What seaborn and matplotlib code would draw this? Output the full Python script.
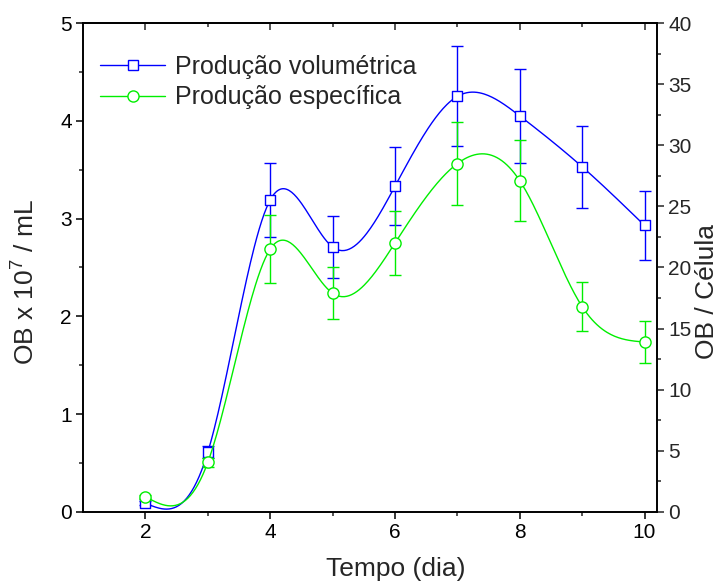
import matplotlib
matplotlib.use("Agg")
import matplotlib.pyplot as plt
from matplotlib.lines import Line2D
import seaborn as sns
import numpy as np


# data
dias = [2, 3, 4, 5, 6, 7, 8, 9, 10]
vol = [0.09, 0.61, 3.19, 2.71, 3.33, 4.25, 4.05, 3.53, 2.93]
vol_err = [0.02, 0.06, 0.38, 0.32, 0.40, 0.51, 0.48, 0.42, 0.35]
esp = [1.25, 4.05, 21.5, 17.9, 22.0, 28.5, 27.1, 16.8, 13.9]
esp_err = [0.15, 0.40, 2.8, 2.1, 2.6, 3.4, 3.3, 2.0, 1.7]


def spline(x, y, n=400):
    # natural cubic spline, only used to draw the smooth line
    x = np.asarray(x, float)
    y = np.asarray(y, float)
    k = len(x)
    h = np.diff(x)
    A = np.zeros((k, k))
    b = np.zeros(k)
    A[0, 0] = A[-1, -1] = 1
    for i in range(1, k - 1):
        A[i, i - 1] = h[i - 1]
        A[i, i] = 2 * (h[i - 1] + h[i])
        A[i, i + 1] = h[i]
        b[i] = 6 * ((y[i + 1] - y[i]) / h[i] - (y[i] - y[i - 1]) / h[i - 1])
    M = np.linalg.solve(A, b)
    xs = np.linspace(x[0], x[-1], n)
    idx = np.clip(np.searchsorted(x, xs) - 1, 0, k - 2)
    x0, x1 = x[idx], x[idx + 1]
    hh = x1 - x0
    ys = (M[idx] * (x1 - xs) ** 3 / (6 * hh) + M[idx + 1] * (xs - x0) ** 3 / (6 * hh)
          + (y[idx] / hh - M[idx] * hh / 6) * (x1 - xs)
          + (y[idx + 1] / hh - M[idx + 1] * hh / 6) * (xs - x0))
    return xs, ys


sns.set_style("ticks")
plt.rcParams['font.family'] = ['Liberation Sans', 'DejaVu Sans']
plt.rcParams['mathtext.fontset'] = 'custom'
plt.rcParams['mathtext.rm'] = 'Liberation Sans'
plt.rcParams['mathtext.it'] = 'Liberation Sans'

blue = "#0000ff"
green = "#00ee00"

fig = plt.figure(figsize=(7.24, 5.87), dpi=100)
ax = fig.add_axes([0.1146, 0.1278, 0.7929, 0.833])
ax2 = ax.twinx()

# smooth lines
xs, ys = spline(dias, vol)
sns.lineplot(x=xs, y=ys, ax=ax, color=blue, lw=1.0, zorder=2)
xs2, ys2 = spline(dias, esp)
sns.lineplot(x=xs2, y=ys2, ax=ax2, color=green, lw=1.0, zorder=2)

# error bars
ax.errorbar(dias, vol, yerr=vol_err, fmt="none", ecolor=blue, elinewidth=1.0,
            capsize=4.3, capthick=1.0, zorder=3)
ax2.errorbar(dias, esp, yerr=esp_err, fmt="none", ecolor=green, elinewidth=1.0,
             capsize=4.3, capthick=1.0, zorder=3)

# markers
sns.scatterplot(x=dias, y=vol, ax=ax, marker="s", s=55, facecolor="white",
                edgecolor=blue, linewidth=1.0, zorder=4)
sns.scatterplot(x=dias, y=esp, ax=ax2, marker="o", s=65, facecolor="white",
                edgecolor=green, linewidth=1.0, zorder=4)

ax.set_xlim(1, 10.2)
ax.set_ylim(0, 5)
ax2.set_ylim(0, 40)
ax.set_xticks([2, 4, 6, 8, 10])
ax.set_xticks([3, 5, 7, 9], minor=True)
ax.set_yticks([0, 1, 2, 3, 4, 5])
ax.set_yticks(np.arange(0.5, 5, 1), minor=True)
ax2.set_yticks(np.arange(0, 41, 5))
ax2.set_yticks(np.arange(2.5, 40, 5), minor=True)

for a in (ax, ax2):
    for s in a.spines.values():
        s.set_linewidth(1.2)
        s.set_color("black")
ax.tick_params(axis="both", which="major", labelsize=15, length=5, width=1.1,
               direction="out", colors="black", pad=3)
ax.tick_params(axis="both", which="minor", length=3, width=1.1, direction="out")
ax2.tick_params(axis="y", which="major", labelsize=15, length=5, width=1.1,
                direction="out", pad=3)
ax2.tick_params(axis="y", which="minor", length=3, width=1.1, direction="out")

# top ticks inward
secx = ax.secondary_xaxis("top")
secx.set_xticks([2, 4, 6, 8, 10])
secx.set_xticks([3, 5, 7, 9], minor=True)
secx.tick_params(which="major", direction="in", length=5, width=1.1, labeltop=False)
secx.tick_params(which="minor", direction="in", length=3, width=1.1)
secx.spines["top"].set_linewidth(1.2)
ax.tick_params(axis="x", which="both", top=False)

ax.set_xlabel("Tempo (dia)", fontsize=19)
ax.set_ylabel("OB x 10$^7$ / mL", fontsize=19)
ax2.set_ylabel("OB / Célula", fontsize=19)
ax.xaxis.set_label_coords(0.544, -0.093)
ax.yaxis.set_label_coords(-0.075, 0.47)
ax2.yaxis.set_label_coords(1.067, 0.45)

handles = [
    Line2D([], [], color=blue, lw=1.0, marker="s", markersize=7, markerfacecolor="white",
           markeredgecolor=blue),
    Line2D([], [], color=green, lw=1.0, marker="o", markersize=8, markerfacecolor="white",
           markeredgecolor=green),
]
ax.legend(handles, ["Produção volumétrica", "Produção específica"], loc="upper left",
          bbox_to_anchor=(-0.005, 0.975), frameon=False, fontsize=18, handlelength=2.6,
          handletextpad=0.4, labelspacing=0.25, borderaxespad=0.4)

fig.savefig("out.png", dpi=100)
